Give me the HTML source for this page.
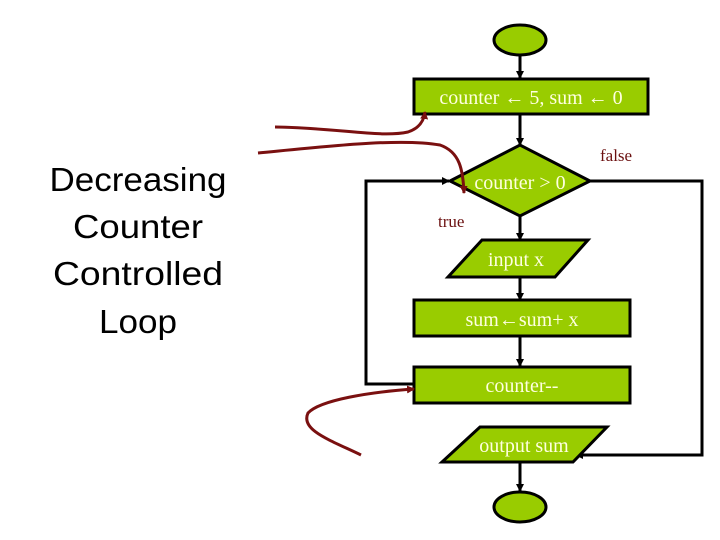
<!DOCTYPE html>
<html><head><meta charset="utf-8"><style>html,body{margin:0;padding:0;background:#fff}svg{display:block}</style></head>
<body>
<svg width="720" height="540" viewBox="0 0 720 540" xmlns="http://www.w3.org/2000/svg">
<defs>
<marker id="a" markerWidth="8" markerHeight="8" refX="7" refY="4" orient="auto" markerUnits="userSpaceOnUse"><path d="M0,0 L8,4 L0,8 z" fill="#000"/></marker>
<marker id="r" markerWidth="8" markerHeight="8" refX="7" refY="4" orient="auto" markerUnits="userSpaceOnUse"><path d="M0,0 L8,4 L0,8 z" fill="#7a1010"/></marker>
</defs>
<g font-family="Liberation Sans, sans-serif" font-size="33" text-anchor="middle" fill="#000">
<text x="138" y="191" textLength="177" lengthAdjust="spacingAndGlyphs">Decreasing</text>
<text x="138" y="238" textLength="130" lengthAdjust="spacingAndGlyphs">Counter</text>
<text x="138" y="285" textLength="170" lengthAdjust="spacingAndGlyphs">Controlled</text>
<text x="138" y="333" textLength="78" lengthAdjust="spacingAndGlyphs">Loop</text>
</g>
<g stroke="#000" stroke-width="3" fill="none">
<line x1="520" y1="55" x2="520" y2="78" marker-end="url(#a)"/>
<line x1="520" y1="114" x2="520" y2="145" marker-end="url(#a)"/>
<line x1="520" y1="216" x2="520" y2="240" marker-end="url(#a)"/>
<line x1="520" y1="277" x2="520" y2="300" marker-end="url(#a)"/>
<line x1="520" y1="336" x2="520" y2="366" marker-end="url(#a)"/>
<line x1="520" y1="462" x2="520" y2="491" marker-end="url(#a)"/>
<polyline points="414,384 366,384 366,181 449,181" marker-end="url(#a)"/>
<polyline points="590,181 702,181 702,455 576,455" marker-end="url(#a)"/>
</g>
<g fill="#99cc00" stroke="#000" stroke-width="3">
<ellipse cx="520" cy="40" rx="26" ry="15"/>
<rect x="414" y="79" width="234" height="35"/>
<polygon points="450,181 520,145 590,181 520,216"/>
<polygon points="482,240 588,240 555,277 448,277"/>
<rect x="414" y="300" width="216" height="36"/>
<rect x="414" y="367" width="216" height="36"/>
<polygon points="480,427 607,427 573,462 442,462"/>
<ellipse cx="520" cy="507" rx="26" ry="15"/>
</g>
<g font-family="Liberation Serif, serif" font-size="20" fill="#ffffe0" text-anchor="middle">
<text x="531" y="104">counter ← 5, sum ← 0</text>
<text x="520" y="189">counter &gt; 0</text>
<text x="516" y="266">input x</text>
<text x="522" y="326">sum←sum+ x</text>
<text x="522" y="392">counter--</text>
<text x="524" y="452">output sum</text>
</g>
<g font-family="Liberation Serif, serif" font-size="17" fill="#6b1010">
<text x="600" y="161">false</text>
<text x="438" y="227">true</text>
</g>
<g stroke="#7a1010" stroke-width="3" fill="none">
<path d="M275,127 C340,128 380,138 408,132 C420,128 424,120 425,112" marker-end="url(#r)"/>
<path d="M258,153 C330,146 400,138 440,145 C460,152 463,170 464,193" marker-end="url(#r)"/>
<path d="M361,455 C330,440 300,430 308,413 C320,400 370,392 414,389" marker-end="url(#r)"/>
</g>
</svg>
</body></html>
